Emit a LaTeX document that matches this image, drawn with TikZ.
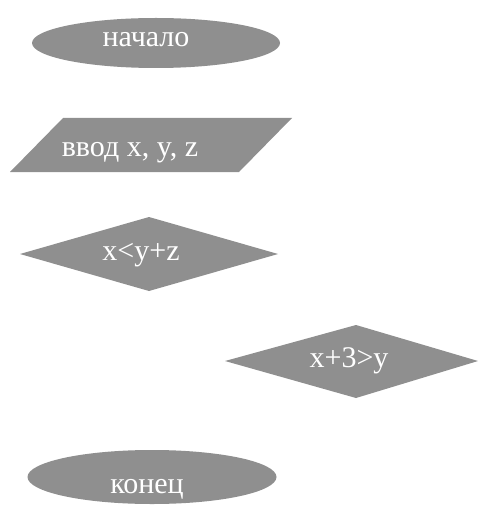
\documentclass[tikz,border=0pt]{standalone}
\usepackage{fontspec}
\setmainfont{Liberation Serif}
\usepackage{tikz}
\usetikzlibrary{calc}
\definecolor{boxgray}{RGB}{143,143,143}

\begin{document}
\begin{tikzpicture}[x=1pt,y=-1pt]
\tikzset{txt/.style={text=white,anchor=base,inner sep=0pt,font=\fontsize{30}{32}\selectfont}}
\useasboundingbox (0,0) rectangle (478,505);
% start
\fill[boxgray] (156,43) ellipse (124 and 25);
\node[txt] (start) at (146,47) {начало};
% input
\fill[boxgray] (63,118) -- (292,118) -- (239,172) -- (10,172) -- cycle;
\node[txt] (input) at (130,157) {ввод x, y, z};
% first test
\fill[boxgray] (20,254) -- (149,217) -- (278,254) -- (149,291) -- cycle;
\node[txt] (testa) at (141,260) {x<y+z};
% second test
\fill[boxgray] (225,361) -- (356,325) -- (478,361) -- (356,398) -- cycle;
\node[txt] (testb) at (349,367) {x+3>y};
% stop
\fill[boxgray] (152,477) ellipse (124.5 and 27);
\node[txt] (stop) at (147,493) {конец};
\end{tikzpicture}
\end{document}
